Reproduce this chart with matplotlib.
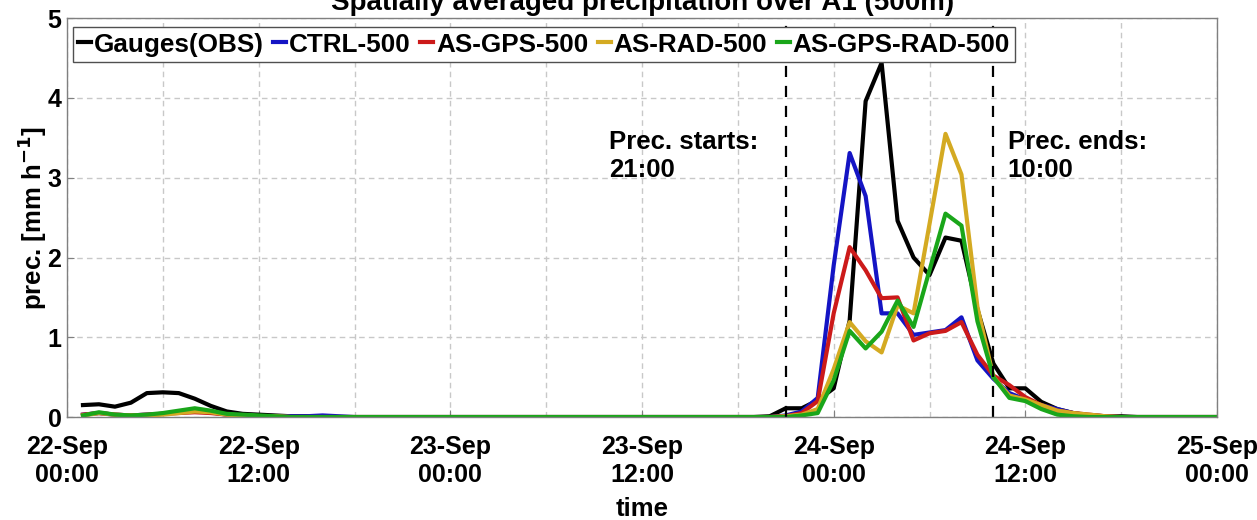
import matplotlib
matplotlib.use('Agg')
from matplotlib import pyplot as plt

plt.rcParams['font.family'] = ['Liberation Sans', 'DejaVu Sans']
plt.rcParams['font.weight'] = 'bold'
plt.rcParams['mathtext.default'] = 'bf'

# hourly accumulations, hours since 22-Sep 00:00
HOURS = list(range(1, 73))

obs = [0.15, 0.16, 0.13, 0.18, 0.30, 0.31, 0.30, 0.23, 0.14, 0.07, 0.04, 0.03,
       0.02, 0.01, 0.01, 0.00, 0.00, 0.00, 0.00, 0.00, 0.00, 0.00, 0.00, 0.00,
       0.00, 0.00, 0.00, 0.00, 0.00, 0.00, 0.00, 0.00, 0.00, 0.00, 0.00, 0.00,
       0.00, 0.00, 0.00, 0.00, 0.00, 0.00, 0.00, 0.01, 0.11, 0.11, 0.21, 0.36,
       1.21, 3.96, 4.44, 2.46, 2.00, 1.78, 2.25, 2.21, 1.35, 0.67, 0.36, 0.36,
       0.19, 0.10, 0.05, 0.02, 0.01, 0.01, 0.00, 0.00, 0.00, 0.00, 0.00, 0.00]

ctrl = [0.03, 0.05, 0.03, 0.02, 0.03, 0.04, 0.06, 0.07, 0.06, 0.03, 0.02, 0.01,
        0.01, 0.01, 0.01, 0.02, 0.01, 0.00, 0.00, 0.00, 0.00, 0.00, 0.00, 0.00,
        0.00, 0.00, 0.00, 0.00, 0.00, 0.00, 0.00, 0.00, 0.00, 0.00, 0.00, 0.00,
        0.00, 0.00, 0.00, 0.00, 0.00, 0.00, 0.00, 0.00, 0.02, 0.07, 0.24, 1.90,
        3.31, 2.77, 1.30, 1.30, 1.03, 1.06, 1.09, 1.25, 0.71, 0.48, 0.30, 0.22,
        0.15, 0.10, 0.05, 0.02, 0.01, 0.00, 0.00, 0.00, 0.00, 0.00, 0.00, 0.00]

gps = [0.03, 0.05, 0.03, 0.02, 0.03, 0.04, 0.05, 0.06, 0.05, 0.03, 0.02, 0.01,
       0.01, 0.00, 0.00, 0.00, 0.00, 0.00, 0.00, 0.00, 0.00, 0.00, 0.00, 0.00,
       0.00, 0.00, 0.00, 0.00, 0.00, 0.00, 0.00, 0.00, 0.00, 0.00, 0.00, 0.00,
       0.00, 0.00, 0.00, 0.00, 0.00, 0.00, 0.00, 0.00, 0.01, 0.05, 0.20, 1.30,
       2.13, 1.84, 1.49, 1.50, 0.96, 1.05, 1.08, 1.19, 0.78, 0.52, 0.40, 0.25,
       0.15, 0.08, 0.05, 0.03, 0.01, 0.00, 0.00, 0.00, 0.00, 0.00, 0.00, 0.00]

rad = [0.02, 0.05, 0.03, 0.02, 0.02, 0.03, 0.05, 0.07, 0.06, 0.03, 0.02, 0.01,
       0.01, 0.00, 0.00, 0.00, 0.00, 0.00, 0.00, 0.00, 0.00, 0.00, 0.00, 0.00,
       0.00, 0.00, 0.00, 0.00, 0.00, 0.00, 0.00, 0.00, 0.00, 0.00, 0.00, 0.00,
       0.00, 0.00, 0.00, 0.00, 0.00, 0.00, 0.00, 0.00, 0.01, 0.03, 0.10, 0.60,
       1.19, 0.95, 0.81, 1.40, 1.30, 2.42, 3.55, 3.04, 1.38, 0.50, 0.27, 0.22,
       0.15, 0.08, 0.05, 0.03, 0.01, 0.00, 0.00, 0.00, 0.00, 0.00, 0.00, 0.00]

gps_rad = [0.02, 0.06, 0.03, 0.02, 0.03, 0.05, 0.08, 0.11, 0.08, 0.04, 0.03, 0.02,
           0.01, 0.00, 0.00, 0.00, 0.00, 0.00, 0.00, 0.00, 0.00, 0.00, 0.00, 0.00,
           0.00, 0.00, 0.00, 0.00, 0.00, 0.00, 0.00, 0.00, 0.00, 0.00, 0.00, 0.00,
           0.00, 0.00, 0.00, 0.00, 0.00, 0.00, 0.00, 0.00, 0.00, 0.02, 0.05, 0.46,
           1.08, 0.86, 1.07, 1.46, 1.13, 1.84, 2.55, 2.40, 1.20, 0.50, 0.24, 0.20,
           0.10, 0.03, 0.01, 0.00, 0.00, 0.00, 0.00, 0.00, 0.00, 0.00, 0.00, 0.00]

TICK_HOURS = [0, 12, 24, 36, 48, 60, 72]
TICK_LABELS = ['22-Sep\n00:00', '22-Sep\n12:00', '23-Sep\n00:00', '23-Sep\n12:00',
               '24-Sep\n00:00', '24-Sep\n12:00', '25-Sep\n00:00']
PREC_START = 45   # 23-Sep 21:00
PREC_END = 58     # 24-Sep 10:00

fig = plt.figure(figsize=(12.57, 5.2), dpi=100)
ax = fig.add_axes([0.0533, 0.198, 0.9149, 0.767])

ax.plot(HOURS, obs, color='black', lw=3, label='Gauges(OBS)')
ax.plot(HOURS, ctrl, color='#1414c4', lw=3, label='CTRL-500')
ax.plot(HOURS, gps, color='#cc1a1a', lw=3, label='AS-GPS-500')
ax.plot(HOURS, rad, color='#d4aa22', lw=3, label='AS-RAD-500')
ax.plot(HOURS, gps_rad, color='#1aa61a', lw=3, label='AS-GPS-RAD-500')

ax.axvline(PREC_START, color='black', lw=1.6, ls=(0, (5, 4)))
ax.axvline(PREC_END, color='black', lw=1.6, ls=(0, (5, 4)))
ax.text(33.95, 3.6, 'Prec. starts:\n21:00', fontsize=18.5, fontweight='bold',
        va='top', linespacing=1.2)
ax.text(58.9, 3.6, 'Prec. ends:\n10:00', fontsize=18.5, fontweight='bold',
        va='top', linespacing=1.2)

ax.set_xlim(0, 72)
ax.set_ylim(0, 5)
ax.set_xticks(TICK_HOURS)
ax.set_xticklabels(TICK_LABELS)
ax.set_xticks(range(6, 72, 12), minor=True)
ax.set_yticks(range(6))
ax.tick_params(axis='both', which='both', direction='in', length=5,
               color='#808080', labelsize=18, pad=4)
ax.tick_params(axis='x', which='major', pad=13)
ax.tick_params(axis='x', which='minor', length=0)
ax.grid(which='both', axis='x', color='#c8c8c8', ls=(0, (4, 3)), lw=1)
ax.grid(which='major', axis='y', color='#c8c8c8', ls=(0, (4, 3)), lw=1)
for spine in ax.spines.values():
    spine.set_color('#808080')
    spine.set_linewidth(1)

ax.set_xlabel('time', fontsize=18.5, fontweight='bold', labelpad=7)
ax.set_ylabel('prec. [mm h$^{-1}$]', fontsize=18.5, fontweight='bold')
ax.yaxis.set_label_coords(-0.016, 0.5)

leg = ax.legend(loc='upper left', bbox_to_anchor=(0.0048, 0.977), ncol=5,
                fontsize=18.8, handlelength=0.5, handletextpad=0.12,
                columnspacing=0.35, borderpad=0.2, borderaxespad=0,
                fancybox=False, framealpha=1)
leg.get_frame().set_edgecolor('#505050')
leg.get_frame().set_linewidth(1)

fig.text(0.511, 0.981, 'Spatially averaged precipitation over A1 (500m)',
         ha='center', va='baseline', fontsize=20, fontweight='bold')

fig.savefig('out.png', dpi=100)
